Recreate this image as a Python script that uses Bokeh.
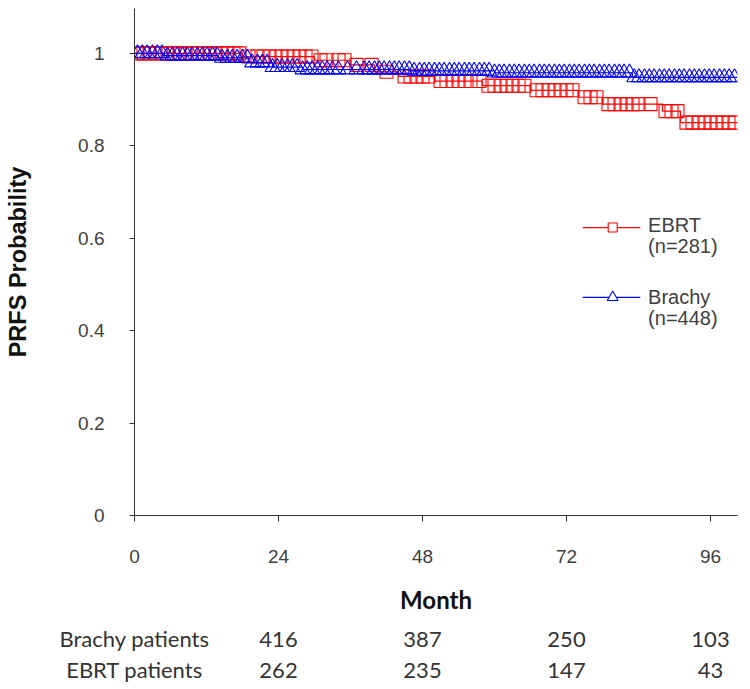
import numpy as np
from bokeh.plotting import figure
from bokeh.models import Label, Range1d, FixedTicker, LinearAxis
from bokeh.embed import file_html
from bokeh.resources import INLINE

# ---- data ----
ebrt_time = [0, 18, 30, 36, 40, 44, 50, 58, 66, 74, 78, 88, 91, 100.5]
ebrt_surv = [1.0, 0.993, 0.985, 0.975, 0.96, 0.95, 0.94, 0.93, 0.92, 0.905, 0.89, 0.875, 0.85, 0.85]
ebrt_censor = [0.5, 1.5, 2.5, 3.5, 4.5, 5.5, 6.5, 7.5, 8.5, 9.5, 10.5, 11.5, 12.5, 13.5, 14.5,
               15.5, 16.5, 17.5, 19, 20.5, 21.5, 22.5, 23.5, 24.5, 25.5, 26.5, 27.5, 28.5, 29.5,
               31, 32, 34, 35, 37, 39.5, 42, 45, 46, 47, 48, 49, 51, 52, 53, 54, 55, 56, 57.5,
               59, 60, 61, 62, 63, 64, 65, 67, 68, 69, 70, 71, 72, 73, 75, 76, 77, 79, 80, 81,
               82, 83, 84, 86, 88.5, 89.5, 90.5, 92, 93, 94, 95, 96, 97, 98, 99, 100]

brachy_time = [0, 5, 14, 19, 23, 28, 46, 60, 83, 100.5]
brachy_surv = [1.0, 0.995, 0.99, 0.98, 0.97, 0.965, 0.962, 0.958, 0.948, 0.948]
brachy_censor = [0.5, 1.3, 2.1, 3, 3.8, 4.6, 5.5, 6.3, 7.1, 8, 8.8, 9.6, 10.5, 11.3, 12.1, 13,
                 13.8, 14.6, 15.5, 16.3, 17.1, 18, 18.8, 19.6, 20.5, 21.3, 22.1, 23, 23.8, 24.6,
                 25.5, 26.3, 27.1, 28, 28.8, 29.6, 30.5, 31.3, 32.1, 33, 34, 35.5, 37, 38.3,
                 39.1, 40, 40.8, 41.6, 42.5, 43.3, 44.1, 45, 45.8, 46.6, 47.5, 48.3, 49.1, 50,
                 50.8, 51.6, 52.5, 53.3, 54.1, 55, 55.8, 56.6, 57.5, 58.3, 59.1, 60, 60.8, 61.6,
                 62.5, 63.3, 64.1, 65, 65.8, 66.6, 67.5, 68.3, 69.1, 70, 70.8, 71.6, 72.5, 73.3,
                 74.1, 75, 75.8, 76.6, 77.5, 78.3, 79.1, 80, 80.8, 81.6, 82.5, 83.3, 84.1, 85,
                 85.8, 86.6, 87.5, 88.3, 89.1, 90, 90.8, 91.6, 92.5, 93.3, 94.1, 95, 95.8, 96.6,
                 97.5, 98.3, 99.1, 100]

x_ticks = [0, 24, 48, 72, 96]
y_ticks = [0, 0.2, 0.4, 0.6, 0.8, 1.0]
y_tick_labels = ["0", "0.2", "0.4", "0.6", "0.8", "1"]

risk_months = [24, 48, 72, 96]
risk_rows = ["Brachy patients", "EBRT patients"]
brachy_at_risk = ["416", "387", "250", "103"]
ebrt_at_risk = ["262", "235", "147", "43"]

legend_labels = [("EBRT", "(n=281)"), ("Brachy", "(n=448)")]

RED = "#ff0000"
BLUE = "#0000ff"
TICK_COL = "#404040"
TABLE_COL = "#333333"


def step_value(times, surv, t):
    idx = np.searchsorted(np.array(times), np.array(t), side="right") - 1
    return np.array(surv)[idx]


p = figure(width=745, height=686, output_backend="svg", toolbar_location=None,
           x_range=Range1d(0, 100.5), y_range=Range1d(0, 1.097),
           min_border_left=134, min_border_right=8, min_border_top=8,
           min_border_bottom=171)
p.outline_line_color = None
p.grid.visible = False

# curves
p.step(ebrt_time, ebrt_surv, mode="after", line_color=RED, line_width=1.2)
p.scatter(ebrt_censor, step_value(ebrt_time, ebrt_surv, ebrt_censor), marker="square",
          size=13, fill_color=None, line_color=RED, line_width=1.1)
p.step(brachy_time, brachy_surv, mode="after", line_color=BLUE, line_width=1.2)
p.scatter(brachy_censor, step_value(brachy_time, brachy_surv, brachy_censor), marker="triangle",
          size=15, fill_color=None, line_color=BLUE, line_width=1.1)

# axes
for ax in (p.xaxis[0], p.yaxis[0]):
    ax.axis_line_color = "#333333"
    ax.major_tick_line_color = "#333333"
    ax.minor_tick_line_color = None
    ax.major_tick_in = 0
    ax.major_label_text_font = "Liberation Sans"
    ax.major_label_text_font_size = "19px"
    ax.major_label_text_color = TICK_COL
    ax.axis_label_text_color = "#111111"

p.xaxis.ticker = FixedTicker(ticks=x_ticks)
p.xaxis.major_tick_out = 6
p.xaxis.major_label_standoff = 28
p.xaxis.axis_label = "Month"
p.xaxis.axis_label_text_font = "Lato"
p.xaxis.axis_label_text_font_style = "bold"
p.xaxis.axis_label_text_font_size = "24px"
p.xaxis.axis_label_standoff = 19

p.yaxis.ticker = FixedTicker(ticks=y_ticks)
p.yaxis.major_label_overrides = {t: s for t, s in zip(y_ticks, y_tick_labels)}
p.yaxis.major_tick_out = 5
p.yaxis.major_label_standoff = 25
p.yaxis.axis_label = "PRFS Probability"
p.yaxis.axis_label_text_font = "Liberation Sans"
p.yaxis.axis_label_text_font_style = "bold"
p.yaxis.axis_label_text_font_size = "23.5px"
p.yaxis.axis_label_standoff = 44

# at-risk table: two label-only axes stacked under the month axis
for name, vals, standoff in zip(risk_rows, [brachy_at_risk, ebrt_at_risk], [8, 1]):
    ax = LinearAxis(ticker=FixedTicker(ticks=[0] + risk_months))
    ax.major_label_overrides = dict(zip([0] + risk_months, [name] + vals))
    ax.axis_line_color = None
    ax.major_tick_line_color = None
    ax.minor_tick_line_color = None
    ax.major_tick_out = 0
    ax.major_tick_in = 0
    ax.major_label_standoff = standoff
    ax.major_label_text_font = "Lato"
    ax.major_label_text_font_size = "22px"
    ax.major_label_text_color = TABLE_COL
    p.add_layout(ax, "below")

# legend (drawn manually inside the plot area)
leg_y_line = [0.623, 0.472]
leg_text_y = [(0.628, 0.584), (0.472, 0.428)]
leg_cols = [RED, BLUE]
leg_markers = ["square", "triangle"]
leg_sizes = [9, 11]
for (l1, l2), yl, (ty1, ty2), c, m, s in zip(legend_labels, leg_y_line, leg_text_y,
                                              leg_cols, leg_markers, leg_sizes):
    p.segment(x0=[74.7], y0=[yl], x1=[84.3], y1=[yl], line_color=c, line_width=1.2)
    p.scatter([79.7], [yl], marker=m, size=s, fill_color="white", line_color=c, line_width=1.1)
    for txt, ty in ((l1, ty1), (l2, ty2)):
        p.add_layout(Label(x=85.6, y=ty, text=txt, text_align="left", text_baseline="middle",
                           text_font="Liberation Sans", text_font_size="20px",
                           text_color=TICK_COL))

open("out.html", "w").write(file_html(p, INLINE))
